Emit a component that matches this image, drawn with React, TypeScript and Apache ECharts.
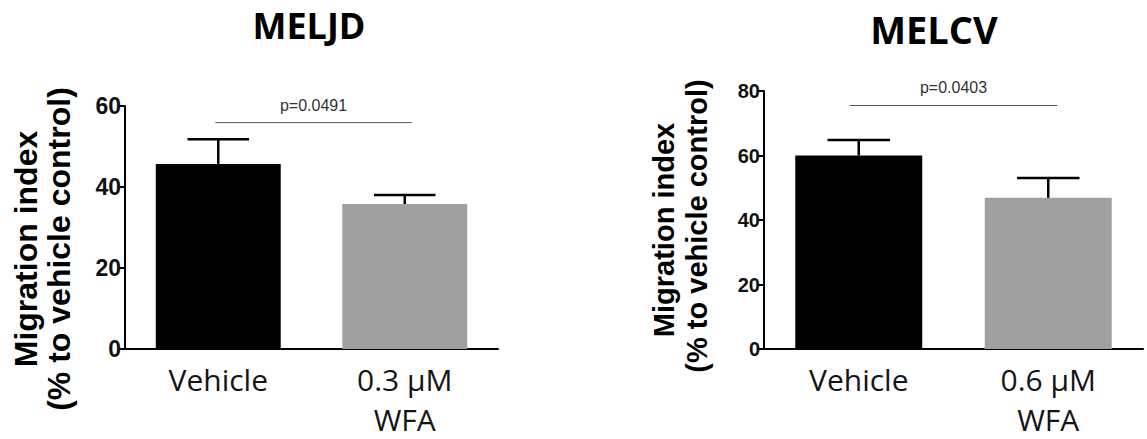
import React, { useEffect, useRef } from "react";
import * as echarts from "echarts";

const leftTitle = "MELJD";
const rightTitle = "MELCV";
const leftCats = ["Vehicle", "0.3 µM\nWFA"];
const rightCats = ["Vehicle", "0.6 µM\nWFA"];
const leftMeans = [45.7, 35.8];
const leftErrTop = [51.8, 38.0];
const rightMeans = [60.0, 46.9];
const rightErrTop = [64.8, 53.0];
const leftYTicks = { min: 0, max: 60, interval: 20 };
const rightYTicks = { min: 0, max: 80, interval: 20 };
const leftP = "p=0.0491";
const rightP = "p=0.0403";
const leftSigY = 55.9;
const rightSigY = 75.5;
const barColors = ["#000000", "#a0a0a0"];
const yLabel1 = "Migration index";
const yLabel2 = "(% to vehicle control)";

export default function App() {
  const ref = useRef<HTMLDivElement>(null);
  useEffect(() => {
    if (!ref.current) return;
    const chart = echarts.init(ref.current, undefined, { renderer: "svg" });

    const axisCommon = (idx: number, cats: string[]) => ({
      type: "category",
      gridIndex: idx,
      data: cats,
      axisLine: { lineStyle: { color: "#000", width: 2 } },
      axisTick: { alignWithLabel: true, length: 6, lineStyle: { color: "#000", width: 2 } },
      axisLabel: {
        fontFamily: "Open Sans",
        fontSize: 30,
        color: "#151515",
        lineHeight: 40,
        margin: 10,
        interval: 0,
      },
    });
    const yCommon = (idx: number, t: any, fs: number) => ({
      type: "value",
      gridIndex: idx,
      min: t.min,
      max: t.max,
      interval: t.interval,
      splitLine: { show: false },
      axisLine: { show: true, lineStyle: { color: "#000", width: 2 } },
      axisTick: { show: true, length: 7, lineStyle: { color: "#000", width: 2 } },
      axisLabel: {
        fontFamily: "Liberation Sans",
        fontWeight: "bold",
        fontSize: fs,
        color: "#111",
        margin: 4,
      },
    });

    const errSeries = (idx: number, means: number[], tops: number[]) => ({
      type: "custom",
      xAxisIndex: idx,
      yAxisIndex: idx,
      clip: false,
      z: 5,
      data: means.map((m, i) => [i, m, tops[i]]),
      renderItem: (params: any, api: any) => {
        const x = api.value(0);
        const p0 = api.coord([x, api.value(1)]);
        const p1 = api.coord([x, api.value(2)]);
        const half = api.size([1, 0])[0] * 0.165;
        const st = { stroke: "#000", lineWidth: 2.5 };
        return {
          type: "group",
          children: [
            { type: "line", shape: { x1: p0[0], y1: p0[1], x2: p1[0], y2: p1[1] }, style: st },
            { type: "line", shape: { x1: p1[0] - half, y1: p1[1], x2: p1[0] + half, y2: p1[1] }, style: st },
          ],
        };
      },
    });

    const sigSeries = (idx: number, y: number, label: string, extL: number, extR: number, dy: number) => ({
      type: "custom",
      xAxisIndex: idx,
      yAxisIndex: idx,
      clip: false,
      z: 6,
      data: [[0, 1, y]],
      renderItem: (params: any, api: any) => {
        const a = api.coord([api.value(0), api.value(2)]);
        const b = api.coord([api.value(1), api.value(2)]);
        return {
          type: "group",
          children: [
            {
              type: "line",
              shape: { x1: a[0] - extL, y1: a[1], x2: b[0] + extR, y2: b[1] },
              style: { stroke: "#555", lineWidth: 1 },
            },
            {
              type: "text",
              x: (a[0] - extL + b[0] + extR) / 2,
              y: a[1] - dy,
              style: {
                text: label,
                fontFamily: "Liberation Sans",
                fontSize: 16,
                fill: "#333",
                align: "center",
                verticalAlign: "middle",
              },
            },
          ],
        };
      },
    });

    const barSeries = (idx: number, means: number[]) => ({
      type: "bar",
      xAxisIndex: idx,
      yAxisIndex: idx,
      barWidth: "67%",
      data: means.map((v, i) => ({ value: v, itemStyle: { color: barColors[i] } })),
    });

    const rotText = (text: string, x: number, y: number, fs: number) => ({
      type: "text",
      x,
      y,
      rotation: Math.PI / 2,
      style: {
        text,
        fontFamily: "Liberation Sans",
        fontWeight: "bold",
        fontSize: fs,
        fill: "#000",
        align: "center",
        verticalAlign: "middle",
      },
    });
    const titleText = (text: string, x: number, y: number, fs: number) => ({
      type: "text",
      x,
      y,
      style: {
        text,
        fontFamily: "Open Sans",
        fontWeight: "bold",
        fontSize: fs,
        fill: "#000",
        align: "center",
        verticalAlign: "middle",
      },
    });

    chart.setOption({
      animation: false,
      backgroundColor: "#fff",
      grid: [
        { left: 125, top: 106, width: 373, height: 245 },
        { left: 764, top: 91, width: 379, height: 260 },
      ],
      xAxis: [axisCommon(0, leftCats), axisCommon(1, rightCats)],
      yAxis: [yCommon(0, leftYTicks, 23), yCommon(1, rightYTicks, 20)],
      series: [
        barSeries(0, leftMeans),
        barSeries(1, rightMeans),
        errSeries(0, leftMeans, leftErrTop),
        errSeries(1, rightMeans, rightErrTop),
        sigSeries(0, leftSigY, leftP, 3, 7, 17),
        sigSeries(1, rightSigY, rightP, 9, 9, 18),
      ],
      graphic: [
        titleText(leftTitle, 309, 25, 36),
        titleText(rightTitle, 934, 29, 38),
        rotText(yLabel1, 26, 249, 32),
        rotText(yLabel2, 59, 249, 32),
        rotText(yLabel1, 664, 230, 29),
        rotText(yLabel2, 697, 226, 29),
      ],
    });
    return () => chart.dispose();
  }, []);
  return (
    <div
      ref={ref}
      style={{ position: "fixed", left: 0, top: 0, width: 1147, height: 439 }}
    />
  );
}
